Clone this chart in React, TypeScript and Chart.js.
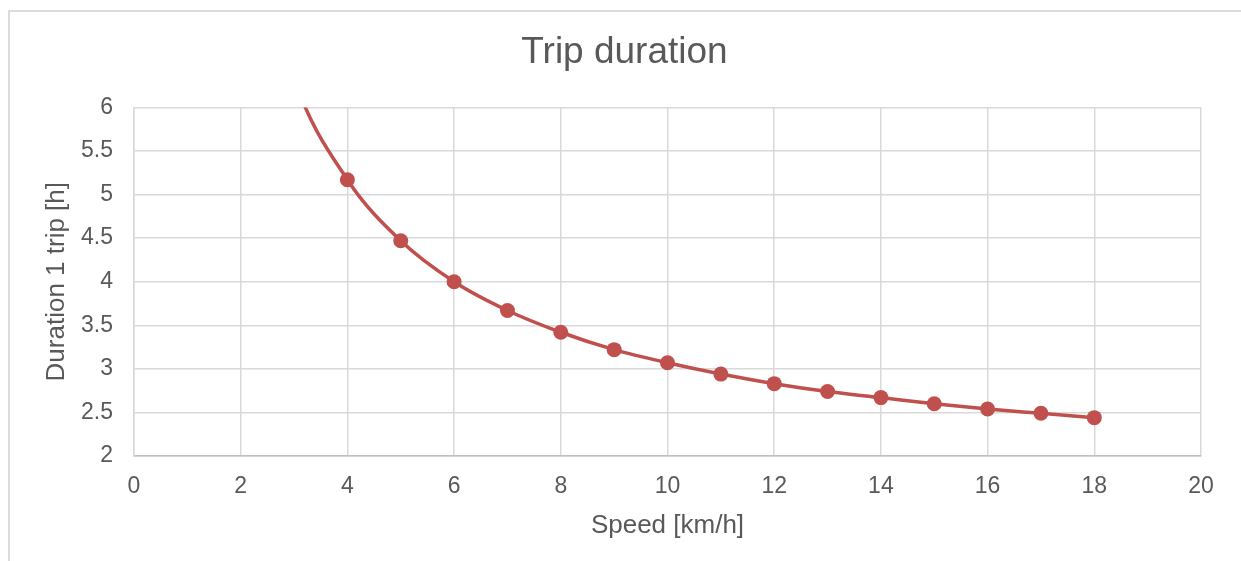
import React, { useEffect, useRef } from 'react';
import { Chart, registerables } from 'chart.js';

Chart.register(...registerables);

// Speed [km/h]
const speeds = [2, 3, 4, 5, 6, 7, 8, 9, 10, 11, 12, 13, 14, 15, 16, 17, 18];
// Duration of 1 trip [h] (first two values lie above the visible range)
const durations = [8.67, 6.33, 5.17, 4.47, 4.0, 3.67, 3.42, 3.22, 3.07, 2.94, 2.83, 2.74, 2.67, 2.6, 2.54, 2.49, 2.44];

const xMin = 0;
const xMax = 20;
const xStep = 2;
const yMin = 2;
const yMax = 6;
const yStep = 0.5;

const chartTitle = 'Trip duration';
const xTitle = 'Speed [km/h]';
const yTitle = 'Duration 1 trip [h]';

const FONT = "'Liberation Sans', Arial, sans-serif";
const TEXT = '#595959';
const GRID = '#d9d9d9';
const SERIES = '#c0504d';

export default function App() {
  const ref = useRef<HTMLCanvasElement>(null);

  useEffect(() => {
    const chart = new Chart(ref.current!, {
      type: 'scatter',
      data: {
        datasets: [
          {
            data: speeds.map((s, i) => ({ x: s, y: durations[i] })),
            showLine: true,
            borderColor: SERIES,
            backgroundColor: SERIES,
            borderWidth: 3.5,
            pointRadius: (ctx: any) => (ctx.raw && ctx.raw.y > yMax ? 0 : 7.5),
            pointBorderWidth: 0,
            pointHoverRadius: 7.5,
            cubicInterpolationMode: 'monotone',
          } as any,
        ],
      },
      options: {
        responsive: false,
        animation: false,
        events: [],
        layout: { padding: { left: 8, right: 0, top: 0, bottom: 0 } },
        plugins: {
          legend: { display: false },
          tooltip: { enabled: false },
          title: {
            display: true,
            text: chartTitle,
            color: TEXT,
            font: { family: FONT, size: 37, weight: 'normal' as any },
            padding: { top: 31, bottom: 32 },
          },
        },
        scales: {
          x: {
            type: 'linear',
            min: xMin,
            max: xMax,
            ticks: {
              stepSize: xStep,
              color: TEXT,
              font: { family: FONT, size: 23 },
              padding: 17,
              callback: (v: any) => String(v),
            },
            grid: { color: GRID, lineWidth: 1.5, drawTicks: false },
            border: { color: '#bfbfbf', width: 1.5 },
            title: {
              display: true,
              text: xTitle,
              color: TEXT,
              font: { family: FONT, size: 26 },
              padding: { top: 0, bottom: 20 },
            },
            afterFit: (s: any) => {
              s.height = 105;
            },
          },
          y: {
            type: 'linear',
            min: yMin,
            max: yMax,
            ticks: {
              stepSize: yStep,
              color: TEXT,
              font: { family: FONT, size: 23 },
              padding: 21,
              callback: (v: any) => String(v),
            },
            grid: { color: GRID, lineWidth: 1.5, drawTicks: false },
            border: { color: GRID, width: 1.5 },
            title: {
              display: true,
              text: yTitle,
              color: TEXT,
              font: { family: FONT, size: 26 },
              padding: { top: 33, bottom: 0 },
            },
            afterFit: (s: any) => {
              s.width = 126;
            },
          },
          y2: {
            type: 'linear',
            position: 'right',
            display: true,
            ticks: { display: false },
            grid: { display: false, drawTicks: false },
            border: { display: false },
            afterFit: (s: any) => {
              s.width = 40;
            },
          },
        },
      } as any,
    });
    return () => chart.destroy();
  }, []);

  return (
    <div style={{ position: 'absolute', left: 0, top: 0, width: 1241, height: 561, overflow: 'hidden', background: '#fff' }}>
      <canvas ref={ref} width={1241} height={561} style={{ position: 'absolute', left: 0, top: 0, width: 1241, height: 561 }} />
      <div
        style={{
          position: 'absolute',
          left: 8,
          top: 10,
          width: 1233,
          height: 551,
          boxSizing: 'border-box',
          borderLeft: '2px solid #dcdcdc',
          borderTop: '2px solid #dcdcdc',
          pointerEvents: 'none',
        }}
      />
    </div>
  );
}
